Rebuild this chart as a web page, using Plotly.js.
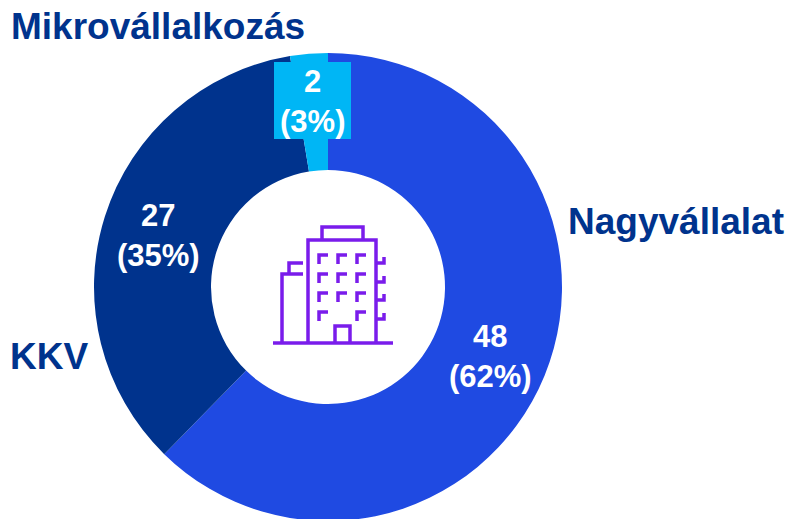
<!DOCTYPE html>
<html><head><meta charset="utf-8">
<script src="https://cdn.plot.ly/plotly-3.0.1.min.js"></script>
<style>html,body{margin:0;padding:0;background:#fff;overflow:hidden;width:789px;height:519px}</style>
</head><body><div id="c"></div>
<script>
const categories = ["Nagyvállalat", "KKV", "Mikrovállalkozás"];
const values = [48, 27, 2];
const percents = [62, 35, 3];
const colors = ["#1F4AE2", "#00338D", "#00B6F5"];
const W = 789, H = 574;
const px = x => x / W, py = y => 1 - y / H;
const font = "'Liberation Sans', Arial, sans-serif";
const navy = "#00338D", purple = "#7A1CEB";

const trace = {
  type: "pie", labels: categories, values: values, sort: false, direction: "clockwise", rotation: 0,
  hole: 0.5, textinfo: "none", hoverinfo: "label+value+percent", automargin: false,
  marker: {colors: colors, line: {width: 0}},
  domain: {x: [px(94), px(562)], y: [py(521), py(53)]}
};

const ann = (text, x, y, size, color, xa) => ({
  text, x: px(x), y: py(y), xref: "paper", yref: "paper", xanchor: xa || "center", yanchor: "middle",
  showarrow: false, font: {family: font, size, color}, align: "center"
});
const vlab = i => `<b>${values[i]}<br>(${percents[i]}%)</b>`;
const annotations = [
  ann(`<b>${categories[2]}</b>`, 9, 27, 37, navy, "left"),
  ann(`<b>${categories[0]}</b>`, 566, 222, 37, navy, "left"),
  ann(`<b>${categories[1]}</b>`, 8, 356, 37, navy, "left"),
  ann(vlab(0), 490, 356, 31, "#fff"),
  ann(vlab(1), 158, 236, 31, "#fff"),
  ann(vlab(2), 312, 102, 31, "#fff")
];

const P = (pts, close) => "M" + pts.map(p => px(p[0]) + "," + py(p[1])).join("L") + (close ? "Z" : "");
const line = pts => ({type: "path", xref: "paper", yref: "paper", path: P(pts), line: {color: purple, width: 3.5}});
const shapes = [
  {type: "rect", xref: "paper", yref: "paper", x0: px(274), x1: px(351), y0: py(62), y1: py(139),
   fillcolor: colors[2], line: {width: 0}},
  line([[273,343],[393,343]]),
  line([[308,343],[308,240],[376,240],[376,343]]),
  line([[322,240],[322,227],[363,227],[363,240]]),
  line([[282,343],[282,274],[303,274]]),
  line([[289,274],[289,263],[303,263]]),
  line([[335,343],[335,326],[350,326],[350,343]])
];
[[319,255],[338,255],[357,255],[319,274],[338,274],[357,274],[319,293],[338,293],[357,293],[319,312],[357,312]]
  .forEach(p => shapes.push(line([[p[0],p[1]+9],[p[0],p[1]],[p[0]+9,p[1]]])));
[263,282,300,319].forEach(y => shapes.push(line([[376,y],[384,y],[384,y-6]])));

Plotly.newPlot("c", [trace], {
  width: W, height: H, margin: {l: 0, r: 0, t: 0, b: 0}, showlegend: false,
  paper_bgcolor: "#fff", annotations, shapes
}, {displayModeBar: false});
</script></body></html>
